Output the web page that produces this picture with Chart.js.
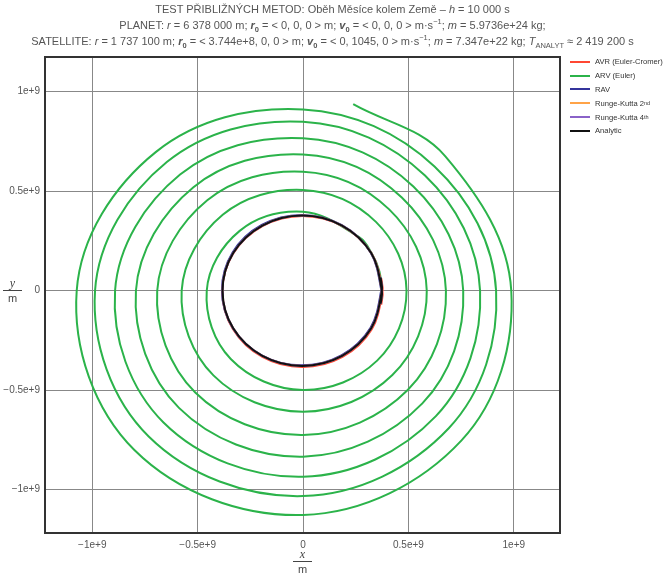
<!DOCTYPE html>
<html>
<head>
<meta charset="utf-8">
<script src="https://cdn.jsdelivr.net/npm/chart.js@4.4.0/dist/chart.umd.min.js"></script>
<style>
    body { margin: 0; background: #fff; }
    #wrap { position: relative; width: 665px; height: 575px; font-family: "Liberation Sans", Arial, sans-serif; color: #555; }
    #chart { position: absolute; left: 0; top: 0; }
    #title { position: absolute; left: 0; top: 1px; width: 665px; text-align: center; font-size: 11px; line-height: 16px; white-space: nowrap; }
    #title sub, #title sup { font-size: 7.5px; line-height: 0; }
    #legend { position: absolute; left: 570px; top: 55px; font-size: 7.6px; color: #333; }
    .legend-item { height: 13.8px; display: flex; align-items: center; white-space: nowrap; }
    .legend-item span.swatch { display: inline-block; width: 20px; height: 2px; margin-right: 5px; }
    .legend-item sup { font-size: 5.5px; line-height: 0; vertical-align: 4px; }
    .frac { position: absolute; text-align: center; font-size: 11px; color: #444; line-height: 12px; }
    .frac i { display: block; font-family: "Liberation Serif", serif; font-size: 12px; }
    .frac .bar { display: block; height: 1px; background: #444; margin: 1px 0; }
</style>
</head>
<body>
<div id="wrap">
    <canvas id="chart" width="665" height="575"></canvas>
    <div id="title">
        <div>TEST PŘIBLIŽNÝCH METOD: Oběh Měsíce kolem Země – <i>h</i> = 10 000 s</div>
        <div>PLANET: <i>r</i> = 6 378 000 m; <b><i>r</i><sub>0</sub></b> = &lt; 0, 0, 0 &gt; m; <b><i>v</i><sub>0</sub></b> = &lt; 0, 0, 0 &gt; m·s<sup>−1</sup>; <i>m</i> = 5.9736e+24 kg;</div>
        <div>SATELLITE: <i>r</i> = 1 737 100 m; <b><i>r</i><sub>0</sub></b> = &lt; 3.744e+8, 0, 0 &gt; m; <b><i>v</i><sub>0</sub></b> = &lt; 0, 1045, 0 &gt; m·s<sup>−1</sup>; <i>m</i> = 7.347e+22 kg; <i>T</i><sub>ANALYT</sub> ≈ 2 419 200 s</div>
    </div>
    <div id="legend"></div>
    <div class="frac" style="left:3px; top:277px; width:19px;"><i>y</i><span class="bar"></span>m</div>
    <div class="frac" style="left:293px; top:548px; width:19px;"><i>x</i><span class="bar"></span>m</div>
</div>
<script>
// Data (positions in units of 1e9 m)
const UNIT = 1e9;

const tickValues = [-1, -0.5, 0, 0.5, 1];
const tickLabels = ['−1e+9', '−0.5e+9', '0', '0.5e+9', '1e+9'];

// Euler (ARV) spiral, counter-clockwise from r0, read every 45 degrees
const spiralX = [
    0.3744, 0.3622, 0.3256, 0.2677, 0, -0.3007, -0.457, -0.3430, 0, 0.3515,
    0.491, 0.3458, 0, -0.3813, -0.576, -0.4253, 0, 0.4238,
    0.587, 0.4086, 0, -0.4545, -0.692, -0.5114, 0, 0.4977,
    0.678, 0.4686, 0, -0.5201, -0.793, -0.5887, 0, 0.5661,
    0.760, 0.5234, 0, -0.5835, -0.892, -0.6621, 0, 0.6303,
    0.840, 0.5786, 0, -0.6465, -0.987, -0.7324, 0, 0.6913,
    0.916, 0.6238, 0, -0.6976, -1.074, -0.8003, 0, 0.7520,
    0.988, 0.6753, 0.238
];
const spiralY = [
    0, 0.0971, 0.188, 0.2677, 0.397, 0.3007, 0, -0.3430, -0.499, -0.3515,
    0, 0.3458, 0.506, 0.3813, 0, -0.4253, -0.608, -0.4238,
    0, 0.4086, 0.598, 0.4545, 0, -0.5114, -0.725, -0.4977,
    0, 0.4686, 0.685, 0.5201, 0, -0.5887, -0.834, -0.5661,
    0, 0.5234, 0.766, 0.5835, 0, -0.6621, -0.935, -0.6303,
    0, 0.5786, 0.849, 0.6465, 0, -0.7324, -1.032, -0.6913,
    0, 0.6238, 0.911, 0.6976, 0, -0.8003, -1.127, -0.7520,
    0, 0.6753, 0.937
];

// Analytic orbit (RK2 / RK4 lie on it), every 30 degrees with a short overlap
const orbitX = [0.3683, 0.374, 0.3234, 0.185, -0.004, -0.193, -0.3314, -0.382, -0.3314, -0.193, -0.004, 0.185, 0.3234, 0.374, 0.3683];
const orbitY = [-0.0656, 0, 0.189, 0.3274, 0.378, 0.3274, 0.189, 0, -0.189, -0.3274, -0.378, -0.3274, -0.189, 0, 0.0656];

// Euler-Cromer orbit (slightly lower)
const avrX = [0.3712, 0.377, 0.3261, 0.187, -0.003, -0.193, -0.3321, -0.383, -0.3321, -0.193, -0.003, 0.187, 0.3261, 0.377, 0.3712];
const avrY = [-0.070, -0.004, 0.186, 0.3251, 0.376, 0.3251, 0.186, -0.004, -0.194, -0.3331, -0.384, -0.3331, -0.194, -0.004, 0.062];

// RAV orbit (slightly upper-left)
const ravX = [0.3653, 0.371, 0.3204, 0.182, -0.007, -0.196, -0.3344, -0.385, -0.3344, -0.196, -0.007, 0.182, 0.3204, 0.371, 0.3653];
const ravY = [-0.0626, 0.003, 0.192, 0.3304, 0.381, 0.3304, 0.192, 0.003, -0.186, -0.3244, -0.375, -0.3244, -0.186, 0.003, 0.0686];

const seriesNames = ['AVR (Euler-Cromer)', 'ARV (Euler)', 'RAV', 'Runge-Kutta 2<sup>nd</sup>', 'Runge-Kutta 4<sup>th</sup>', 'Analytic'];
const seriesColors = ['#ff4733', '#2bb34a', '#34349c', '#ffa347', '#8a62c8', '#111111'];

// Build points
function toPoints(xs, ys) {
    return xs.map((x, i) => ({ x: x * UNIT, y: ys[i] * UNIT }));
}

function makeDataset(index, xs, ys, order, tension) {
    return {
        label: seriesNames[index].replace(/<[^>]+>/g, ''),
        data: toPoints(xs, ys),
        borderColor: seriesColors[index],
        borderWidth: 2,
        showLine: true,
        pointRadius: 0,
        tension: tension,
        fill: false,
        order: order
    };
}

// Frame around the plot area
const framePlugin = {
    id: 'frame',
    afterDraw(chart) {
        const { ctx, chartArea } = chart;
        ctx.save();
        ctx.strokeStyle = '#333';
        ctx.lineWidth = 2;
        ctx.strokeRect(chartArea.left, chartArea.top, chartArea.right - chartArea.left, chartArea.bottom - chartArea.top);
        ctx.restore();
    }
};

function scaleOptions(min, max, fitSide, fitSize, pad) {
    return {
        type: 'linear',
        min: min,
        max: max,
        afterBuildTicks: scale => { scale.ticks = tickValues.map(v => ({ value: v * UNIT })); },
        afterFit: scale => { scale[fitSide] = fitSize; },
        ticks: {
            callback: value => tickLabels[tickValues.indexOf(value / UNIT)],
            font: { family: '"Liberation Sans", Arial, sans-serif', size: 10 },
            color: '#555',
            padding: pad,
            maxRotation: 0,
            autoSkip: false
        },
        grid: { color: '#888', lineWidth: 1, drawTicks: false },
        border: { display: false }
    };
}

// Legend
function renderLegend() {
    const legend = document.getElementById('legend');
    legend.innerHTML = seriesNames.map((name, i) => `
        <div class="legend-item"><span class="swatch" style="background:${seriesColors[i]}"></span>${name}</div>
    `).join('');
}

function initChart() {
    const ctx = document.getElementById('chart').getContext('2d');
    new Chart(ctx, {
        type: 'scatter',
        data: {
            datasets: [
                makeDataset(0, avrX, avrY, 5, 0.35),
                makeDataset(1, spiralX, spiralY, 6, 0.37),
                makeDataset(2, ravX, ravY, 4, 0.35),
                makeDataset(3, orbitX, orbitY, 3, 0.35),
                makeDataset(4, orbitX, orbitY, 2, 0.35),
                makeDataset(5, orbitX, orbitY, 1, 0.35)
            ]
        },
        options: {
            responsive: false,
            animation: false,
            layout: { padding: { top: 57, right: 105, left: 0, bottom: 0 } },
            scales: {
                x: scaleOptions(-1.2244 * UNIT, 1.2192 * UNIT, 'height', 42, 6),
                y: scaleOptions(-1.2176 * UNIT, 1.1744 * UNIT, 'width', 45, 5)
            },
            plugins: {
                legend: { display: false },
                title: { display: false },
                tooltip: { enabled: false }
            }
        },
        plugins: [framePlugin]
    });
    renderLegend();
}

document.addEventListener('DOMContentLoaded', initChart);
</script>
</body>
</html>
